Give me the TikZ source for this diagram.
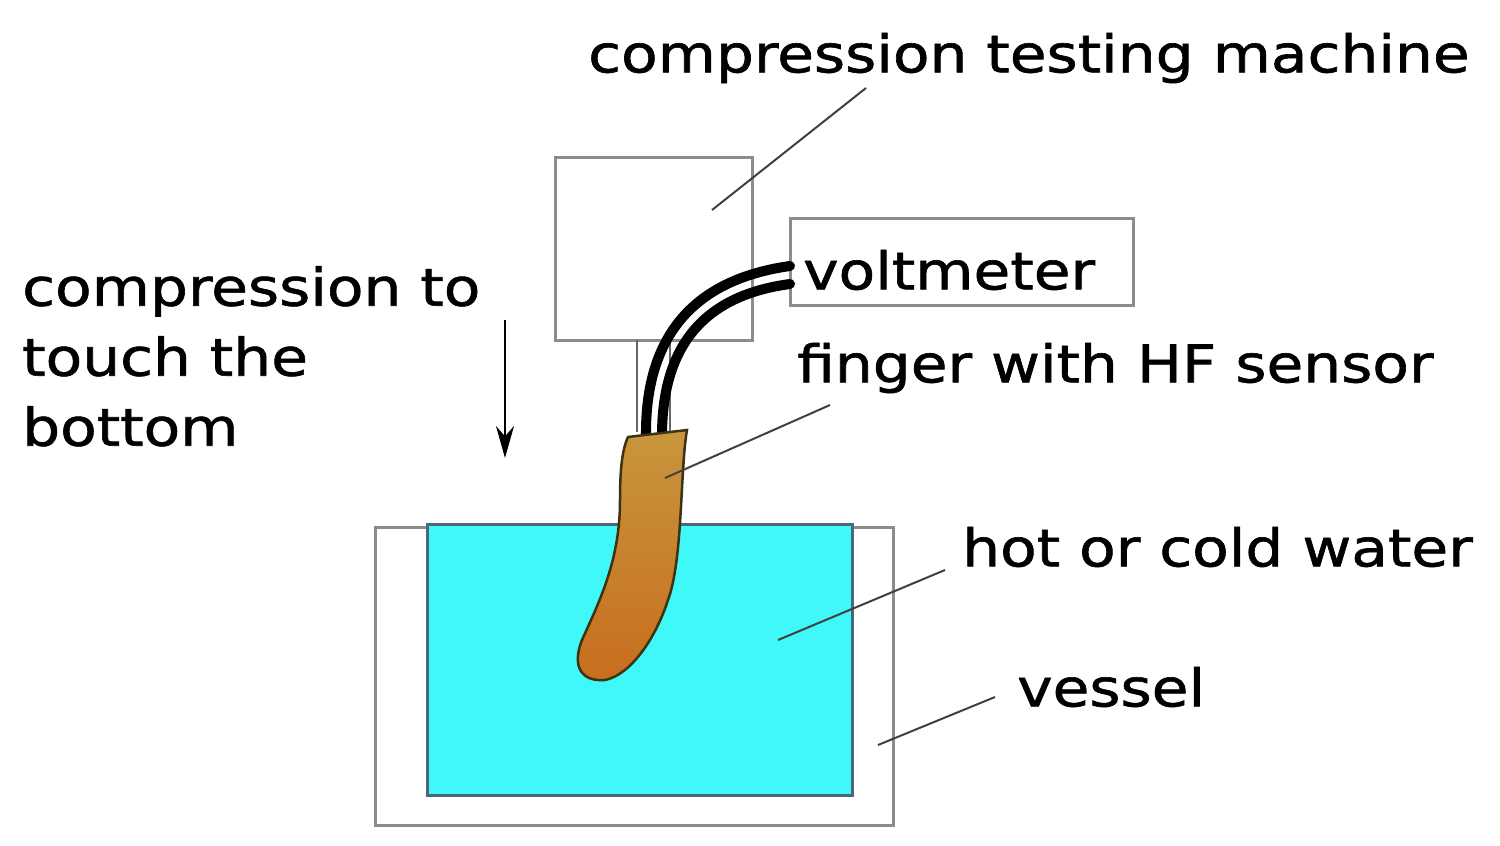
\documentclass[tikz,border=0pt]{standalone}
\usepackage{fontspec}
\setmainfont[FakeStretch=1.15,FakeBold=1.2]{DejaVu Sans}
\usetikzlibrary{arrows.meta}
\begin{document}
\begin{tikzpicture}[x=1pt,y=-1pt,
  lbl/.style={font=\fontsize{52}{60}\selectfont, anchor=west, inner sep=0pt},
  grayline/.style={draw=black!45, line width=3pt},
  lead/.style={draw=black!75, line width=2pt},
  cable/.style={line width=10pt, draw=black, line cap=round}]
\useasboundingbox (0,0) rectangle (1500,846);
% vessel
\draw[grayline, fill=white] (375,527) rectangle (893,825);
\draw[draw=black!60!cyan, line width=3pt, fill={rgb,255:red,64;green,248;blue,248}] (427,524) rectangle (852,795);
% machine
\draw[grayline] (555,157) rectangle (752,340);
\draw[draw=black!60, line width=2pt] (637,340) -- (637,432) (670,340) -- (670,432);
% voltmeter box
\draw[grayline] (790,218) rectangle (1133,305);
% cables
\coordinate (c1a) at (790,266);
\coordinate (c1b) at (646,436);
\coordinate (c2a) at (790,284);
\coordinate (c2b) at (662,436);
\draw[cable] (c1a) .. controls (690,280) and (645,340) .. (c1b);
\draw[cable] (c2a) .. controls (700,296) and (662,350) .. (c2b);
% finger
\shade[top color={rgb,255:red,200;green,150;blue,60}, bottom color={rgb,255:red,200;green,110;blue,30}, draw={rgb,255:red,60;green,50;blue,20}, line width=2.5pt]
 (628,437) -- (687,430) .. controls (680,470) and (683,560) .. (668,600)
 .. controls (655,640) and (630,675) .. (605,680)
 .. controls (580,682) and (572,665) .. (582,640)
 .. controls (600,600) and (620,560) .. (620,500)
 .. controls (620,470) and (622,450) .. cycle;
% arrow
\draw[line width=2.5pt, -{Stealth[length=32pt,width=18pt]}] (505,320) -- (505,458);
% labels
\node[lbl] (tm) at (588,58) {compression testing machine};
\node[lbl] (vm) at (803,270) {voltmeter};
\node[lbl] (fs) at (797,368) {finger with HF sensor};
\node[lbl] (hw) at (962,547) {hot or cold water};
\node[lbl] (vs) at (1017,687) {vessel};
\node[lbl, align=left, anchor=north west, font=\fontsize{52}{70}\selectfont] (ct) at (22,266) {compression to\\touch the\\bottom};
% leaders
\coordinate (p1) at (712,210);
\coordinate (p2) at (665,478);
\coordinate (p3) at (778,640);
\coordinate (p4) at (878,745);
\draw[lead] (866,88) -- (p1);
\draw[lead] (830,405) -- (p2);
\draw[lead] (945,570) -- (p3);
\draw[lead] (995,697) -- (p4);
\end{tikzpicture}
\end{document}
